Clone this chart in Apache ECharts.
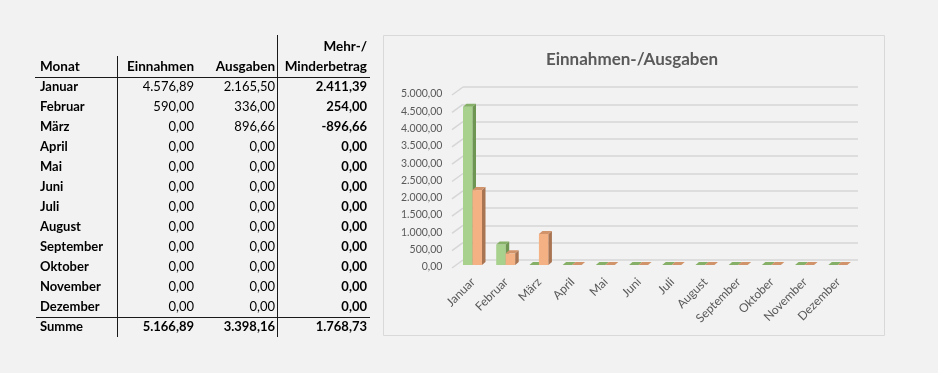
<!DOCTYPE html>
<html>
<head>
<meta charset="utf-8">
<script src="https://cdn.jsdelivr.net/npm/echarts@6/dist/echarts.min.js"></script>
<style>
html,body{margin:0;padding:0;background:#f2f2f2;}
#main{width:938px;height:373px;}
</style>
</head>
<body>
<div id="main"></div>
<script>
// ---- data ----
const months = ['Januar','Februar','März','April','Mai','Juni','Juli','August','September','Oktober','November','Dezember'];
const einnahmen = [4576.89, 590.00, 0, 0, 0, 0, 0, 0, 0, 0, 0, 0];
const ausgaben = [2165.50, 336.00, 896.66, 0, 0, 0, 0, 0, 0, 0, 0, 0];
const yTicks = [0, 500, 1000, 1500, 2000, 2500, 3000, 3500, 4000, 4500, 5000];
const headers = ['Monat', 'Einnahmen', 'Ausgaben', 'Mehr-/', 'Minderbetrag'];
const sumLabel = 'Summe';
const chartTitle = 'Einnahmen-/Ausgaben';

function fmt(v){
  const neg = v < 0;
  let s = Math.abs(v).toFixed(2);
  let parts = s.split('.');
  let i = parts[0].replace(/\B(?=(\d{3})+(?!\d))/g, '.');
  return (neg ? '-' : '') + i + ',' + parts[1];
}

const FONT = 'Lato';
const FS = 13;
const g = [];
// chart frame
g.push({type:'rect', z:-10, shape:{x:383.5,y:35.5,width:501,height:300}, style:{fill:'#f2f2f2', stroke:'#d9d9d9', lineWidth:1}});
// table lines
function line(x1,y1,x2,y2){ g.push({type:'line', shape:{x1,y1,x2,y2}, style:{stroke:'#1a1a1a', lineWidth:1}}); }
line(117.5, 56, 117.5, 337);
line(277.5, 35, 277.5, 337);
line(35, 77.5, 370, 77.5);
line(36, 317.5, 370, 317.5);
function txt(s, x, y, align, bold, size){
  g.push({type:'text', x:x, y:y, style:{text:s, fill:'#000', align:align, verticalAlign:'middle',
    font:(bold?'bold ':'') + (size || FS) + 'px ' + FONT}});
}
// headers
txt(headers[3], 367, 47, 'right', true, 13.5);
txt(headers[0], 40, 67, 'left', true, 13.5);
txt(headers[1], 194, 67, 'right', true, 13.5);
txt(headers[2], 275, 67, 'right', true, 13.5);
txt(headers[4], 367, 67, 'right', true, 13.5);
let sE = 0, sA = 0;
months.forEach(function(m, i){
  const y = 87 + 20*i;
  const d = einnahmen[i] - ausgaben[i];
  sE += einnahmen[i]; sA += ausgaben[i];
  txt(m, 40, y, 'left', true);
  txt(fmt(einnahmen[i]), 194, y, 'right', false);
  txt(fmt(ausgaben[i]), 275, y, 'right', false);
  txt(fmt(d), 367, y, 'right', true);
});
txt(sumLabel, 40, 327, 'left', true);
txt(fmt(sE), 194, 327, 'right', true);
txt(fmt(sA), 275, 327, 'right', true);
txt(fmt(sE - sA), 367, 327, 'right', true);

const DX = 3.5, DY = -3;
function barRenderer(colors, side){
  return function(params, api){
    const cat = api.value(0), val = api.value(1);
    const w = 9.5;
    const base = api.coord([cat, 0]);
    const top = api.coord([cat, val]);
    const x = (side === 0 ? base[0] - w : base[0]) - 0.5;
    const yb = base[1] - 2, yt = top[1] - 2;
    const children = [];
    if (yb - yt > 0.3) {
      children.push({type:'rect', shape:{x:x, y:yt, width:w, height:yb-yt}, style:{fill:colors[0]}});
      children.push({type:'polygon', shape:{points:[[x+w,yt],[x+w+DX,yt+DY],[x+w+DX,yb+DY],[x+w,yb]]}, style:{fill:colors[1]}});
    }
    children.push({type:'polygon', shape:{points:[[x,yt],[x+w,yt],[x+w+DX,yt+DY],[x+DX,yt+DY]]}, style:{fill:colors[2]}});
    return {type:'group', children:children};
  };
}

const option = {
  backgroundColor: '#f2f2f2',
  animation: false,
  title: {
    text: chartTitle, left: 627, top: 46, textAlign: 'center',
    textStyle: {fontFamily: FONT, fontWeight: 'bold', fontSize: 17, color: '#595959'}
  },
  graphic: {elements: g},
  grid: [
    {left: 456.4, width: 398.5, top: 94, height: 173},
    {left: 463, width: 395, top: 87, height: 173}
  ],
  xAxis: [
    {type:'category', gridIndex:0, data: months, axisLine:{show:false}, axisTick:{show:false},
     axisLabel:{interval:0, rotate:45, margin:13, color:'#595959', fontFamily:FONT, fontSize:12}},
    {type:'category', gridIndex:1, data: months, show:false}
  ],
  yAxis: [
    {type:'value', gridIndex:0, min:0, max:5000, interval:500, splitLine:{show:false},
     axisLine:{show:false}, axisTick:{show:false},
     axisLabel:{margin:14, color:'#595959', fontFamily:FONT, fontSize:10.5, formatter: fmt}},
    {type:'value', gridIndex:1, min:0, max:5000, interval:500, axisLabel:{show:false},
     axisLine:{show:false}, axisTick:{show:false},
     splitLine:{show:true, lineStyle:{color:'#d6d6d6', width:1.5}}}
  ],
  series: [
    {type:'custom', xAxisIndex:1, yAxisIndex:1, z:1, silent:true,
     data: yTicks.map(function(t){ return [0, t]; }),
     renderItem: function(params, api){
       const p = api.coord([0, api.value(1)]);
       const left = p[0] - api.size([1,0])[0]/2;
       return {type:'line', shape:{x1:left, y1:p[1], x2:left-11, y2:p[1]+8}, style:{stroke:'#d6d6d6', lineWidth:1.5}};
     }},
    {type:'custom', name:'Einnahmen', xAxisIndex:0, yAxisIndex:0, z:3,
     data: einnahmen.map(function(v, i){ return [i, v]; }),
     renderItem: barRenderer(['#a9d18e', '#6e9652', '#86b067'], 0)},
    {type:'custom', name:'Ausgaben', xAxisIndex:0, yAxisIndex:0, z:4,
     data: ausgaben.map(function(v, i){ return [i, v]; }),
     renderItem: barRenderer(['#f4b183', '#a97451', '#d1936a'], 1)}
  ]
};
const chart = echarts.init(document.getElementById('main'), null, {renderer:'canvas', width:938, height:373});
chart.setOption(option);
</script>
</body>
</html>
